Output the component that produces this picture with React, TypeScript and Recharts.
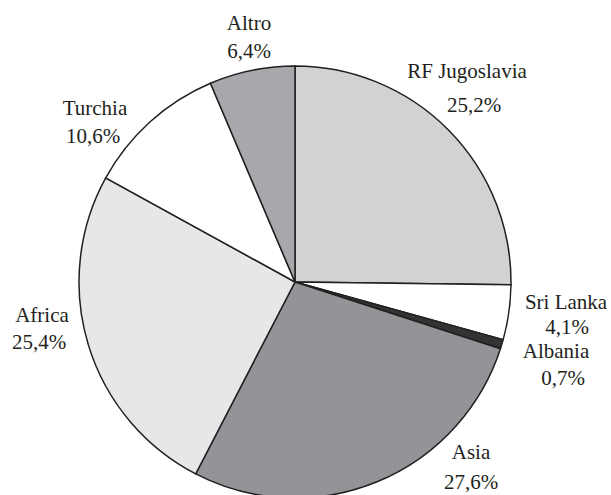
import React from "react";
import { PieChart, Pie, Cell } from "recharts";

const categories = ["RF Jugoslavia", "Sri Lanka", "Albania", "Asia", "Africa", "Turchia", "Altro"];
const values = [25.2, 4.1, 0.7, 27.6, 25.4, 10.6, 6.4];
const valueLabels = ["25,2%", "4,1%", "0,7%", "27,6%", "25,4%", "10,6%", "6,4%"];

const colors = ["#d1d2d4", "#ffffff", "#333333", "#939497", "#e6e7e8", "#ffffff", "#a7a8ab"];
// label placement: [dx1, dy1, dx2, dy2] relative to pie centre (baselines)
const labelLayout: number[][] = [
  [172, -204, 179, -170],
  [271, 27, 272, 52],
  [261, 76, 268, 103],
  [176, 177, 176, 207],
  [-253, 40, -256, 67],
  [-200, -167, -202, -139],
  [-46, -252, -46, -224],
];

const data = categories.map((name, i) => ({ name, value: values[i], label: valueLabels[i] }));

const FONT = "'Liberation Serif', 'Times New Roman', serif";

const renderLabel = (props: any) => {
  const { cx, cy, index } = props;
  const l = labelLayout[index];
  return (
    <g key={"lbl" + index}>
      <text x={cx + l[0]} y={cy + l[1]} textAnchor="middle" fontSize={21} fill="#231f20" style={{ fontFamily: FONT }}>
        {data[index].name}
      </text>
      <text x={cx + l[2]} y={cy + l[3]} textAnchor="middle" fontSize={21} fill="#231f20" style={{ fontFamily: FONT }}>
        {data[index].label}
      </text>
    </g>
  );
};

export default function App() {
  return (
    <div style={{ position: "absolute", left: 0, top: 0, width: 611, height: 495, background: "#fff" }}>
      <PieChart width={611} height={495} margin={{ top: 0, right: 0, bottom: 0, left: 0 }}>
        <Pie
          data={data}
          dataKey="value"
          nameKey="name"
          cx={295}
          cy={282}
          outerRadius={216}
          startAngle={90}
          endAngle={-270}
          stroke="#231f20"
          strokeWidth={1.5}
          label={renderLabel}
          labelLine={false}
          isAnimationActive={false}
        >
          {data.map((d, i) => (
            <Cell key={d.name} fill={colors[i]} />
          ))}
        </Pie>
      </PieChart>
    </div>
  );
}
